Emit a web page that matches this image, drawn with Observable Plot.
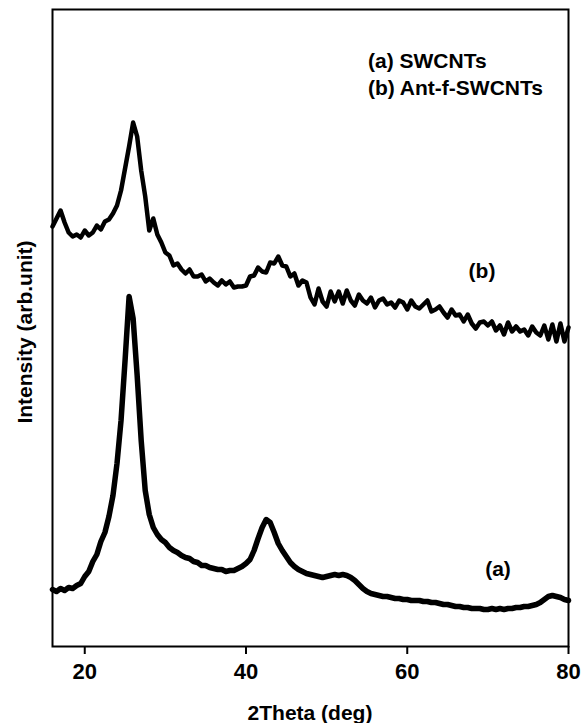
<!DOCTYPE html>
<html>
<head>
<meta charset="utf-8">
<script src="https://cdn.jsdelivr.net/npm/d3@7"></script>
<script src="https://cdn.jsdelivr.net/npm/@observablehq/plot@0.6"></script>
<style>
  html, body { margin: 0; padding: 0; background: #fff; }
  #wrap { position: relative; width: 581px; height: 723px; overflow: hidden; }
  .lbl { position: absolute; font-family: 'Liberation Sans', Arial, Helvetica, sans-serif; font-weight: bold; font-size: 21px; line-height: 21px; color: #000; white-space: nowrap; }
</style>
</head>
<body>
<div id="wrap"></div>
<script>
// 2θ sampling (deg)
const theta = [16,16.5,17,17.5,18,18.5,19,19.5,20,20.5,21,21.5,22,22.5,23,23.5,24,24.5,25,25.5,26,26.5,27,27.5,28,28.5,29,29.5,30,30.5,31,31.5,32,32.5,33,33.5,34,34.5,35,35.5,36,36.5,37,37.5,38,38.5,39,39.5,40,40.5,41,41.5,42,42.5,43,43.5,44,44.5,45,45.5,46,46.5,47,47.5,48,48.5,49,49.5,50,50.5,51,51.5,52,52.5,53,53.5,54,54.5,55,55.5,56,56.5,57,57.5,58,58.5,59,59.5,60,60.5,61,61.5,62,62.5,63,63.5,64,64.5,65,65.5,66,66.5,67,67.5,68,68.5,69,69.5,70,70.5,71,71.5,72,72.5,73,73.5,74,74.5,75,75.5,76,76.5,77,77.5,78,78.5,79,79.5,80];

// (b) Ant-f-SWCNTs intensity (arb. units)
const seriesB = [420,428,436,424,414,410,412,409,416,411,414,421,417,425,427,433,441,456,478,500,524,510,476,450,416,428,412,404,394,391,381,383,377,373,377,370,370,372,365,368,364,361,366,362,365,359,360,360,361,370,371,379,375,374,384,383,390,381,380,370,373,361,366,364,349,342,358,345,340,355,345,355,343,356,346,341,352,346,343,349,339,346,348,342,344,339,346,344,337,346,340,338,342,346,335,337,340,334,329,337,331,332,325,332,323,318,324,325,321,325,316,321,312,324,315,320,315,317,311,320,314,311,321,307,322,305,323,305,319];

// (a) SWCNTs intensity (arb. units)
const seriesA = [57,55,58,56,59,58,61,63,70,75,85,92,105,114,130,151,183,226,286,350,328,271,206,156,132,119,112,107,104,99,96,94,91,89,88,85,84,81,81,79,78,77,77,75,76,76,78,80,83,87,96,108,119,127,124,114,103,96,90,84,80,77,75,73,72,71,70,69,70,71,72,71,72,71,69,66,62,58,55,53,52,51,50,50,49,48,48,47,47,46,46,46,45,45,44,44,43,42,42,41,40,40,39,39,38,38,38,37,37,38,37,38,37,38,38,39,39,40,40,41,42,44,47,50,51,50,49,47,46];

const xTicks = [20, 40, 60, 80];
const xDomain = [16, 80];
const yDomain = [0, 637];
const legendLines = ["(a) SWCNTs", "(b) Ant-f-SWCNTs"];
const legendAt = [{x: 55.19, y: 586}, {x: 55.19, y: 559}];
const curveLabels = [{label: "(b)", x: 69.33, y: 376}, {label: "(a)", x: 71.32, y: 78}];
const xTitle = "2Theta (deg)";
const yTitle = "Intensity (arb.unit)";

const dataB = theta.map((t, i) => ({theta: t, v: seriesB[i]}));
const dataA = theta.map((t, i) => ({theta: t, v: seriesA[i]}));

const chart = Plot.plot({
  width: 581,
  height: 723,
  marginLeft: 52,
  marginRight: 13,
  marginTop: 9,
  marginBottom: 77,
  style: {fontFamily: "'Liberation Sans', Arial, Helvetica, sans-serif", fontWeight: "bold", fontSize: "21px", color: "#000", background: "#fff"},
  x: {domain: xDomain},
  y: {domain: yDomain},
  marks: [
    Plot.frame({stroke: "#000", strokeWidth: 2}),
    Plot.line(dataB, {x: "theta", y: "v", stroke: "#000", strokeWidth: 4.5, strokeLinejoin: "round"}),
    Plot.line(dataA, {x: "theta", y: "v", stroke: "#000", strokeWidth: 5.5, strokeLinejoin: "round"}),
    Plot.axisX({ticks: xTicks, tickSize: 8, tickPadding: 9, strokeWidth: 2, label: null, fontSize: 22, fontWeight: "bold"}),
    Plot.axisY({ticks: [], label: null})
  ]
});
const wrapEl = document.getElementById("wrap");
wrapEl.appendChild(chart);

// positions of annotations through the chart's own scales
const sx = chart.scale("x"), sy = chart.scale("y");
const fx = sx.apply ? (v => sx.apply(v)) : d3.scaleLinear(sx.domain, sx.range);
const fy = sy.apply ? (v => sy.apply(v)) : d3.scaleLinear(sy.domain, sy.range);
const [xLeft, xRight] = sx.range;
const [yBottom, yTop] = sy.range;

function addLabel(text, px, py, transform) {
  const d = document.createElement("div");
  d.className = "lbl";
  d.textContent = text;
  d.style.left = px + "px";
  d.style.top = py + "px";
  d.style.transform = transform;
  wrapEl.appendChild(d);
}
legendLines.forEach((s, i) => addLabel(s, fx(legendAt[i].x), fy(legendAt[i].y), "translate(0,-50%)"));
curveLabels.forEach(c => addLabel(c.label, fx(c.x), fy(c.y), "translate(-50%,-50%)"));
addLabel(xTitle, (xLeft + xRight) / 2, yBottom + 66, "translate(-50%,-50%)");
addLabel(yTitle, xLeft - 28, (yTop + yBottom) / 2 + 4, "translate(-50%,-50%) rotate(-90deg)");
</script>
</body>
</html>
